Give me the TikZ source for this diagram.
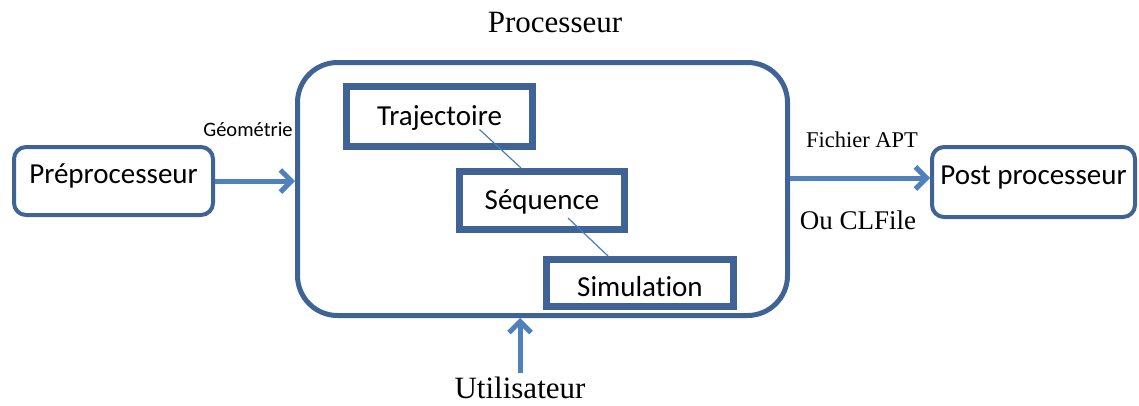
\documentclass[tikz,border=0pt]{standalone}
\usepackage{fontspec}
\setmainfont{Liberation Serif}
\newfontfamily\boxfont{Carlito}[Ligatures=NoCommon]
\usepackage{xcolor}
\usetikzlibrary{arrows.meta,positioning,calc}
\definecolor{procedge}{HTML}{3E6394}
\definecolor{procarrow}{HTML}{4F81BD}
\definecolor{proclink}{HTML}{4A7EBB}

\begin{document}
\begin{tikzpicture}[
        x=1pt, y=-1pt,
        outerbox/.style={
          draw=procedge,
          rounded corners=12pt,
          line width=4pt,
          text height=21pt,
          text depth=17pt,
          font=\boxfont\fontsize{29}{34}\selectfont
        },
        stagebox/.style={
          draw=procedge,
          line width=7pt,
          text depth=2pt,
          font=\boxfont\fontsize{29}{34}\selectfont
        },
        flow/.style={
          -{Straight Barb[length=11pt,width=22pt,line width=5pt]},
          line width=5pt,
          procarrow
        },
        link/.style={
          line width=1.2pt,
          proclink
        },
        tag/.style={
          inner sep=0pt
        }
      ]
      \useasboundingbox (0,0) rectangle (1139,405);

      % main block
      \node[draw=procedge, line width=5pt, rounded corners=40pt,
            minimum width=490pt, minimum height=253pt] (proc) at (542.5,189) {};
      \node[tag, font=\fontsize{31}{36}\selectfont] (proctitle) at (555,22) {Processeur};

      % side blocks
      \node[outerbox, minimum width=199pt, minimum height=68pt] (pre) at (113.5,181) {Préprocesseur};
      \node[outerbox, minimum width=203pt, minimum height=70pt] (post) at (1033.5,182) {Post processeur};

      % stages
      \node[stagebox, minimum width=186pt, minimum height=60pt] (traj) at (439.5,116.5) {Trajectoire};
      \node[stagebox, minimum width=165pt, minimum height=58pt] (seq) at (542,200.5) {Séquence};
      \node[stagebox, minimum width=187pt, minimum height=47pt, text height=28pt] (sim) at (640,283) {Simulation};

      \draw[link] ([shift={(40,13)}]traj.center) -- ([xshift=-21pt]seq.north);
      \draw[link] ([shift={(26,17.5)}]seq.center) -- ([xshift=-32pt]sim.north);

      % labels
      \node[tag, font=\boxfont\fontsize{20.5}{24}\selectfont] (geo) at (248,130) {Géométrie};
      \node[tag, font=\fontsize{22.5}{26}\selectfont] (apt) at (862,140) {Fichier APT};
      \node[tag, font=\fontsize{27}{32}\selectfont] (clf) at (858,220) {Ou CLFile};
      \node[tag, font=\fontsize{31}{36}\selectfont] (user) at (520,388) {Utilisateur};

      % arrows
      \draw[flow] (pre.east) -- (pre.east -| proc.west);
      \draw[flow] ([yshift=4pt]post.west -| proc.east) -- ([yshift=4pt]post.west);
      \draw[flow] ([yshift=4pt]user.north) -- (user.north |- proc.south);

      \end{tikzpicture}
\end{document}
